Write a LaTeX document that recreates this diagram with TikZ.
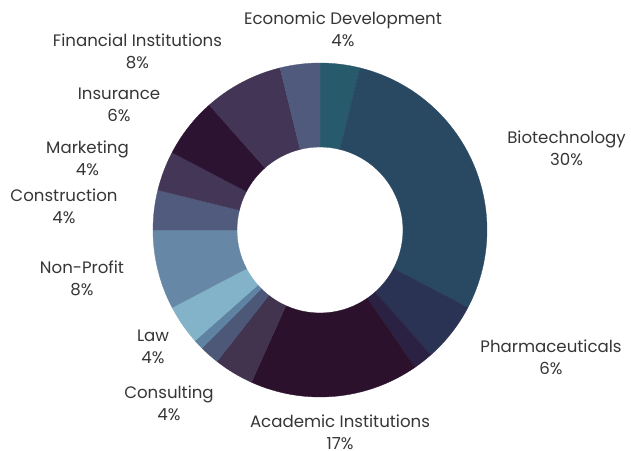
\documentclass[tikz,border=0pt]{standalone}
\usepackage{fontspec}
\setmainfont{Poppins}
\definecolor{txt}{HTML}{363636}
\definecolor{cEcon}{HTML}{275A6B}
\definecolor{cBio}{HTML}{294862}
\definecolor{cPharma}{HTML}{2A3353}
\definecolor{cThinA}{HTML}{2B2243}
\definecolor{cAcad}{HTML}{2B112C}
\definecolor{cCons}{HTML}{42334F}
\definecolor{cThinB}{HTML}{4D5878}
\definecolor{cThinC}{HTML}{5F82A3}
\definecolor{cLaw}{HTML}{82B3C9}
\definecolor{cNP}{HTML}{6787A6}
\definecolor{cConstr}{HTML}{515B7E}
\definecolor{cMark}{HTML}{433656}
\definecolor{cIns}{HTML}{2C1331}
\definecolor{cFin}{HTML}{433555}
\definecolor{cLast}{HTML}{505A7D}
\begin{document}
\begin{tikzpicture}[x=1pt,y=-1pt,
  lbl/.style={text=txt,font=\fontsize{16.6}{22}\selectfont,align=center,inner sep=0pt}]
\useasboundingbox[fill=white] (0,0) rectangle (631,450);
\begin{scope}[shift={(320,230)}]
\foreach \a/\b/\col in {0/4/cEcon,4/34/cBio,34/40/cPharma,40/42/cThinA,42/59/cAcad,59/63/cCons,63/65/cThinB,65/66/cThinC,66/70/cLaw,70/78/cNP,78/82/cConstr,82/86/cMark,86/92/cIns,92/100/cFin,100/104/cLast}{
  \pgfmathsetmacro{\sa}{-90+\a*3.4615385}
  \pgfmathsetmacro{\ea}{-90+\b*3.4615385}
  \filldraw[fill=\col,draw=\col,line width=0.3pt] (\sa:167) arc[start angle=\sa,end angle=\ea,radius=167] -- (\ea:83) arc[start angle=\ea,end angle=\sa,radius=83] -- cycle;
}
\end{scope}
\node[lbl] (econ) at (343,29.5) {Economic Development\\4\%};
\node[lbl] (bio) at (566.5,148.5) {Biotechnology\\30\%};
\node[lbl] (pharma) at (551,357.5) {Pharmaceuticals\\6\%};
\node[lbl] (acad) at (340,432.5) {Academic Institutions\\17\%};
\node[lbl] (cons) at (169,403.5) {Consulting\\4\%};
\node[lbl] (law) at (153,346.5) {Law\\4\%};
\node[lbl] (np) at (82,278.5) {Non-Profit\\8\%};
\node[lbl] (constr) at (64,206.5) {Construction\\4\%};
\node[lbl] (mark) at (87.5,158.5) {Marketing\\4\%};
\node[lbl] (ins) at (119,105) {Insurance\\6\%};
\node[lbl] (fin) at (137.5,51.5) {Financial Institutions\\8\%};
\end{tikzpicture}
\end{document}
